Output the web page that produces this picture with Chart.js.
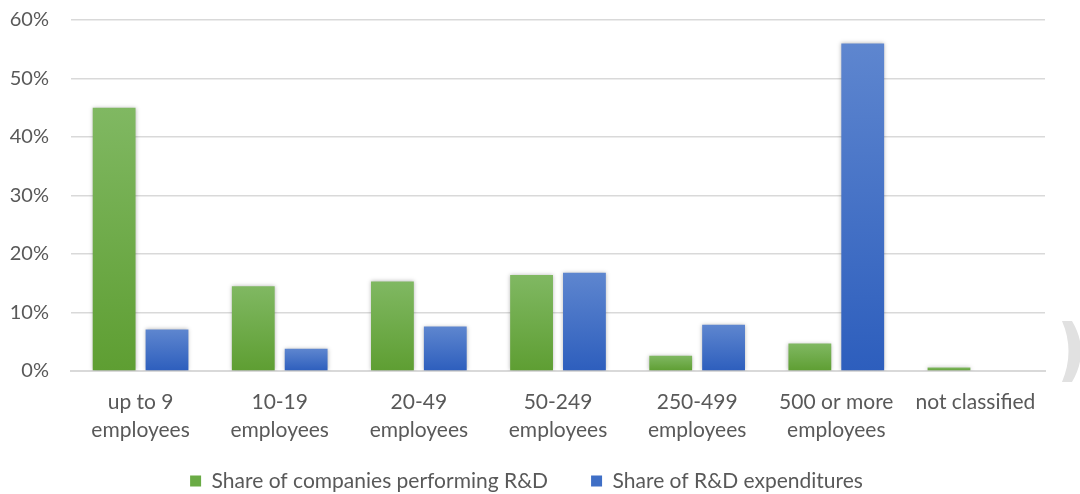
<!DOCTYPE html>
<html>
<head>
<meta charset="utf-8">
<script src="https://cdn.jsdelivr.net/npm/chart.js@4/dist/chart.umd.min.js"></script>
<style>
  html, body { margin: 0; padding: 0; background: #ffffff; }
  #wrap { width: 1080px; height: 494px; position: relative; }
</style>
</head>
<body>
<div id="wrap"><canvas id="chart" width="1080" height="494"></canvas></div>
<script>
// Size classes (x-axis categories)
const categories = [
  ["up to 9", "employees"],
  ["10-19", "employees"],
  ["20-49", "employees"],
  ["50-249", "employees"],
  ["250-499", "employees"],
  ["500 or more", "employees"],
  "not classified"
];

// Shares in percent
const companiesShare = [45.0, 14.5, 15.3, 16.4, 2.6, 4.7, 0.6];
const expenditureShare = [7.1, 3.8, 7.6, 16.8, 7.9, 56.0, 0];

const seriesLabels = ["Share of companies performing R&D", "Share of R&D expenditures"];
const yTicks = [0, 10, 20, 30, 40, 50, 60];

const FONT = "Lato, 'Open Sans', sans-serif";
const TEXT = "#595959";
const LABEL_SIZE = 21;

// Vertical gradient per bar, light at the top and darker towards the base
function barGradient(topColor, bottomColor) {
  return function (ctx) {
    const chart = ctx.chart;
    const area = chart.chartArea;
    if (!area || ctx.type !== "data") return bottomColor;
    const y = chart.scales.y;
    const top = y.getPixelForValue(ctx.raw);
    const base = y.getPixelForValue(0);
    if (!isFinite(top) || Math.abs(base - top) < 1) return bottomColor;
    const g = chart.ctx.createLinearGradient(0, top, 0, base);
    g.addColorStop(0, topColor);
    g.addColorStop(1, bottomColor);
    return g;
  };
}

// Soft halo around the bars
const barShadow = {
  id: "barShadow",
  beforeDatasetsDraw(chart) {
    const c = chart.ctx;
    c.save();
    c.shadowColor = "rgba(0,0,0,0.28)";
    c.shadowBlur = 4;
    c.shadowOffsetX = 0;
    c.shadowOffsetY = 0;
  },
  afterDatasetsDraw(chart) {
    chart.ctx.restore();
  }
};

// Place the legend row near the bottom edge; its wide padding spaces the two items apart
const legendRow = {
  id: "legendRow",
  afterLayout(chart) {
    const lg = chart.legend;
    if (!lg) return;
    const pad = chart.options.plugins.legend.labels.padding;
    const textTop = 481 - LABEL_SIZE / 2;
    lg.top = textTop - pad;
    lg.bottom = chart.height;
    lg.height = lg.bottom - lg.top;
  }
};

// Light grey chevron at the right edge of the page
const chevron = {
  id: "chevron",
  afterDraw(chart) {
    const c = chart.ctx;
    c.save();
    c.fillStyle = "#e1e1e1";
    c.beginPath();
    c.moveTo(1062, 321);
    c.lineTo(1072, 321);
    c.quadraticCurveTo(1090, 351, 1072, 382);
    c.lineTo(1062, 382);
    c.quadraticCurveTo(1075, 351, 1062, 321);
    c.closePath();
    c.fill();
    c.restore();
  }
};

new Chart(document.getElementById("chart"), {
  type: "bar",
  data: {
    labels: categories,
    datasets: [
      {
        label: seriesLabels[0],
        data: companiesShare,
        backgroundColor: barGradient("#80b862", "#5e9e32"),
        borderWidth: 0
      },
      {
        label: seriesLabels[1],
        data: expenditureShare,
        backgroundColor: barGradient("#5e86cf", "#2d5ebd"),
        borderWidth: 0
      }
    ]
  },
  options: {
    responsive: false,
    animation: false,
    devicePixelRatio: 1,
    categoryPercentage: 0.76,
    barPercentage: 0.81,
    layout: { padding: { top: 20, right: 35, left: 8, bottom: 0 } },
    plugins: {
      tooltip: { enabled: false },
      legend: {
        position: "bottom",
        maxHeight: 48,
        labels: {
          font: { family: FONT, size: LABEL_SIZE },
          color: TEXT,
          boxWidth: 11,
          boxHeight: 11,
          padding: 43,
          generateLabels(chart) {
            const fills = ["#6aab45", "#3f6fc6"];
            return chart.data.datasets.map((ds, i) => ({
              text: ds.label,
              fillStyle: fills[i],
              strokeStyle: fills[i],
              lineWidth: 0,
              hidden: false,
              datasetIndex: i,
              fontColor: TEXT
            }));
          }
        }
      }
    },
    scales: {
      x: {
        afterFit(axis) { axis.height = 75; },
        grid: { display: false, drawTicks: false },
        border: { display: true, color: "#d9d9d9", width: 2 },
        ticks: {
          color: TEXT,
          font: { family: FONT, size: LABEL_SIZE, lineHeight: 1.33 },
          padding: 17,
          maxRotation: 0,
          autoSkip: false
        }
      },
      y: {
        min: 0,
        max: 60,
        afterBuildTicks(axis) {
          axis.ticks = yTicks.map(v => ({ value: v }));
        },
        afterFit(axis) { axis.width = 63; },
        grid: {
          color: "#d9d9d9",
          lineWidth: 1.6,
          drawTicks: true,
          tickLength: 22,
          tickColor: "rgba(0,0,0,0)"
        },
        border: { display: false },
        ticks: {
          color: TEXT,
          font: { family: FONT, size: 20 },
          padding: 0,
          callback: v => v + "%"
        }
      }
    }
  },
  plugins: [barShadow, legendRow, chevron]
});
</script>
</body>
</html>
